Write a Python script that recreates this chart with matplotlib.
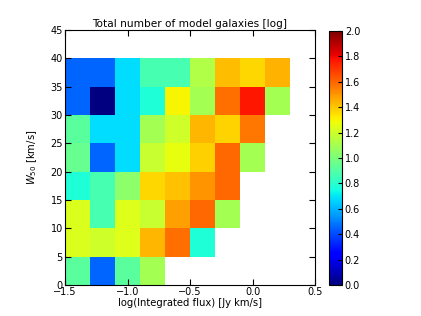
import numpy as np
import matplotlib
matplotlib.use("Agg")
import matplotlib.pyplot as plt

x_edges = [-1.5, -1.3, -1.1, -0.9, -0.7, -0.5, -0.3, -0.1, 0.1, 0.3]
y_edges = [0, 5, 10, 15, 20, 25, 30, 35, 40]
nan = np.nan
# rows from bottom (W50 0-5) to top (35-40)
log_counts = [
    [0.92, 0.45, 0.92, 1.10, nan, nan, nan, nan, nan],
    [1.23, 1.20, 1.24, 1.43, 1.58, 0.78, nan, nan, nan],
    [1.23, 0.87, 1.24, 1.18, 1.48, 1.60, 1.10, nan, nan],
    [0.78, 0.87, 1.04, 1.36, 1.41, 1.50, 1.60, nan, nan],
    [0.95, 0.45, 0.68, 1.18, 1.26, 1.38, 1.60, 1.10, nan],
    [0.92, 0.68, 0.68, 1.10, 1.20, 1.43, 1.37, 1.57, nan],
    [0.45, 0.00, 0.68, 0.78, 1.30, 1.10, 1.58, 1.77, 1.10],
    [0.45, 0.45, 0.68, 0.87, 0.87, 1.13, 1.42, 1.36, 1.44],
]

fig = plt.figure(figsize=(4.21, 3.16), dpi=100)
ax = fig.add_axes([65/421, 31/316, 250/421, 255/316])
cax = fig.add_axes([329/421, 31/316, 13/421, 254/316])

data = np.ma.masked_invalid(np.array(log_counts))
mesh = ax.pcolormesh(x_edges, y_edges, data, cmap="jet", vmin=0, vmax=2)
ax.set_xlim(-1.5, 0.5)
ax.set_ylim(0, 45)
ax.set_xticks([-1.5, -1.0, -0.5, 0.0, 0.5])
ax.set_yticks(range(0, 46, 5))
ax.tick_params(direction="in", top=True, right=True, labelsize=7, length=4, pad=1.5)
ax.set_xlabel("log(Integrated flux) [Jy km/s]", fontsize=7.2, labelpad=1)
ax.set_ylabel("$W_{50}$ [km/s]", fontsize=7.2, labelpad=8)
ax.set_title("Total number of model galaxies [log]", fontsize=7.6, pad=2)

cb = fig.colorbar(mesh, cax=cax, ticks=np.arange(0, 2.01, 0.2))
cb.ax.tick_params(labelsize=7, direction="in", length=3, pad=2)
cb.ax.set_yticklabels([f"{v:.1f}" for v in np.arange(0, 2.01, 0.2)])

fig.savefig("out.png", dpi=100)
